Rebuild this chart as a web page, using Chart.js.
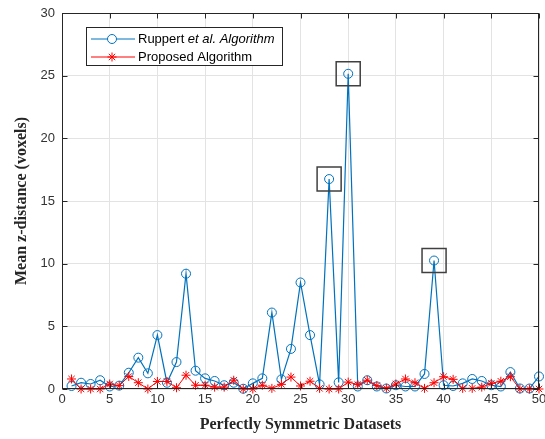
<!DOCTYPE html>
<html><head><meta charset="utf-8">
<script src="https://cdn.jsdelivr.net/npm/chart.js@4/dist/chart.umd.min.js"></script>
<style>html,body{margin:0;padding:0;background:#fff}#wrap{position:relative;width:545px;height:439px}</style>
</head><body><div id="wrap"><canvas id="c" width="545" height="439"></canvas></div>
<script>
const datasetNumbers = Array.from({length: 50}, (_, i) => i + 1);
const ruppertValues = [0.24,0.5,0.4,0.7,0.2,0.27,1.3,2.5,1.25,4.3, 0.5,2.15,9.2,1.46,0.85,0.64,0.3,0.5,0.02,0.45, 0.85,6.1,0.77,3.2,8.5,4.3,0.37,16.75,0.53,25.15, 0.2,0.7,0.2,0.04,0.3,0.2,0.2,1.2,10.25,0.3, 0.24,0.45,0.8,0.64,0.3,0.2,1.35,0.04,0.04,1.0];
const proposedValues = [0.8,0.0,0.0,0.0,0.4,0.27,1.0,0.5,0.0,0.6, 0.6,0.1,1.1,0.3,0.3,0.15,0.15,0.7,0.0,0.0, 0.3,0.05,0.37,0.95,0.24,0.62,0.05,0.0,0.0,0.55, 0.35,0.7,0.27,0.06,0.4,0.8,0.5,0.05,0.5,0.98, 0.77,0.05,0.05,0.15,0.45,0.62,0.98,0.0,0.0,0.0];
const highlightedDatasets = [28, 30, 39];
const xTickValues = [0,5,10,15,20,25,30,35,40,45,50];
const yTickValues = [0,5,10,15,20,25,30];
const xTitle = 'Perfectly Symmetric Datasets';
const yTitle = 'Mean z-distance (voxels)';
const legendRuppertPlain = 'Ruppert ';
const legendRuppertItalic = 'et al. Algorithm';
const legendProposed = 'Proposed Algorithm';

const BLUE = '#0072BD', RED = '#FF0000', AXIS = '#262626';

const toPoints = vals => datasetNumbers.map((n, i) => ({x: n, y: vals[i]}));
const boxPoints = highlightedDatasets.map(n => ({x: n, y: ruppertValues[n - 1]}));
const zeroPad = () => ({left: 0, top: 0, right: 0, bottom: 0});

const framePlugin = {
  id: 'frame',
  afterDraw(chart) {
    const {ctx, chartArea: a, scales: {x, y}} = chart;
    ctx.save();
    ctx.strokeStyle = AXIS; ctx.lineWidth = 1;
    const L = Math.round(a.left) + 0.5, R = Math.round(a.right) - 0.5;
    const T = Math.round(a.top) + 0.5, B = Math.round(a.bottom) - 0.5;
    ctx.strokeRect(L, T, R - L, B - T);
    ctx.beginPath();
    xTickValues.forEach(v => {
      const px = Math.round(x.getPixelForValue(v)) + 0.5;
      ctx.moveTo(px, B); ctx.lineTo(px, B - 5);
      ctx.moveTo(px, T); ctx.lineTo(px, T + 5);
    });
    yTickValues.forEach(v => {
      const py = Math.round(y.getPixelForValue(v)) + 0.5;
      ctx.moveTo(L, py); ctx.lineTo(L + 5, py);
      ctx.moveTo(R, py); ctx.lineTo(R - 5, py);
    });
    ctx.stroke();

    // legend
    const bx = 86.5, by = 27.5, bw = 196, bh = 38;
    ctx.fillStyle = '#fff';
    ctx.fillRect(bx, by, bw, bh);
    ctx.strokeStyle = AXIS; ctx.lineWidth = 1;
    ctx.strokeRect(bx, by, bw, bh);
    const rows = [39, 57];
    ctx.strokeStyle = BLUE; ctx.lineWidth = 1;
    ctx.beginPath(); ctx.moveTo(91, rows[0]); ctx.lineTo(135, rows[0]); ctx.stroke();
    Chart.helpers.drawPoint(ctx, {pointStyle: 'circle', radius: 4.5, borderWidth: 1}, 112, rows[0]);
    ctx.strokeStyle = RED;
    ctx.beginPath(); ctx.moveTo(91, rows[1]); ctx.lineTo(135, rows[1]); ctx.stroke();
    Chart.helpers.drawPoint(ctx, {pointStyle: 'star', radius: 4.5, borderWidth: 1}, 112, rows[1]);
    ctx.fillStyle = '#000';
    ctx.textBaseline = 'middle'; ctx.textAlign = 'left';
    ctx.font = '13px "Liberation Sans", Arial, sans-serif';
    ctx.fillText(legendRuppertPlain, 138, rows[0]);
    const w = ctx.measureText(legendRuppertPlain).width;
    ctx.font = 'italic 13px "Liberation Sans", Arial, sans-serif';
    ctx.fillText(legendRuppertItalic, 138 + w, rows[0]);
    ctx.font = '13px "Liberation Sans", Arial, sans-serif';
    ctx.fillText(legendProposed, 138, rows[1]);
    ctx.restore();
  }
};

new Chart(document.getElementById('c'), {
  type: 'line',
  data: {
    datasets: [
      {label: 'Ruppert et al. Algorithm', data: toPoints(ruppertValues), borderColor: BLUE, backgroundColor: 'rgba(0,0,0,0)',
       borderWidth: 1.2, pointStyle: 'circle', pointRadius: 4.5, pointBorderWidth: 1, pointBorderColor: BLUE, tension: 0, order: 2, clip: false},
      {label: 'Proposed Algorithm', data: toPoints(proposedValues), borderColor: RED, backgroundColor: RED,
       borderWidth: 1, pointStyle: 'star', pointRadius: 4.5, pointBorderWidth: 1, pointBorderColor: RED, tension: 0, order: 1, clip: false},
      {label: 'highlight', data: boxPoints, showLine: false, pointStyle: 'rect', pointRadius: 17, pointBorderWidth: 1.5,
       pointBorderColor: '#404040', pointBackgroundColor: 'rgba(0,0,0,0)', order: 0}
    ]
  },
  options: {
    responsive: false, animation: false, devicePixelRatio: 1,
    layout: {autoPadding: false, padding: {top: 13, right: 6, left: 0, bottom: 0}},
    plugins: {legend: {display: false}, tooltip: {enabled: false}},
    elements: {point: {hoverRadius: 0}},
    scales: {
      x: {
        type: 'linear', min: 0, max: 50,
        afterBuildTicks: s => { s.ticks = xTickValues.map(v => ({value: v})); },
        ticks: {font: {family: '"Liberation Sans", Arial, sans-serif', size: 13}, color: '#333', padding: 3, maxRotation: 0, autoSkip: false},
        grid: {color: '#e3e3e3', lineWidth: 1, drawTicks: false},
        border: {display: false},
        title: {display: true, text: xTitle, font: {family: '"Liberation Serif", "Times New Roman", serif', size: 16, weight: 'bold'}, color: AXIS, padding: {top: 0, bottom: 5}},
        afterFit: s => { s.height = 50; s.paddingLeft = 0; s.paddingRight = 0; s.getPadding = zeroPad; }
      },
      y: {
        type: 'linear', min: 0, max: 30,
        afterBuildTicks: s => { s.ticks = yTickValues.map(v => ({value: v})); },
        ticks: {font: {family: '"Liberation Sans", Arial, sans-serif', size: 13}, color: '#333', padding: 7},
        grid: {color: '#e3e3e3', lineWidth: 1, drawTicks: false},
        border: {display: false},
        title: {display: true, text: yTitle, font: {family: '"Liberation Serif", "Times New Roman", serif', size: 16, weight: 'bold'}, color: AXIS, padding: {top: 12, bottom: 0}},
        afterFit: s => { s.width = 62; s.paddingTop = 0; s.paddingBottom = 0; s.getPadding = zeroPad; }
      }
    }
  },
  plugins: [framePlugin]
});
</script></body></html>
